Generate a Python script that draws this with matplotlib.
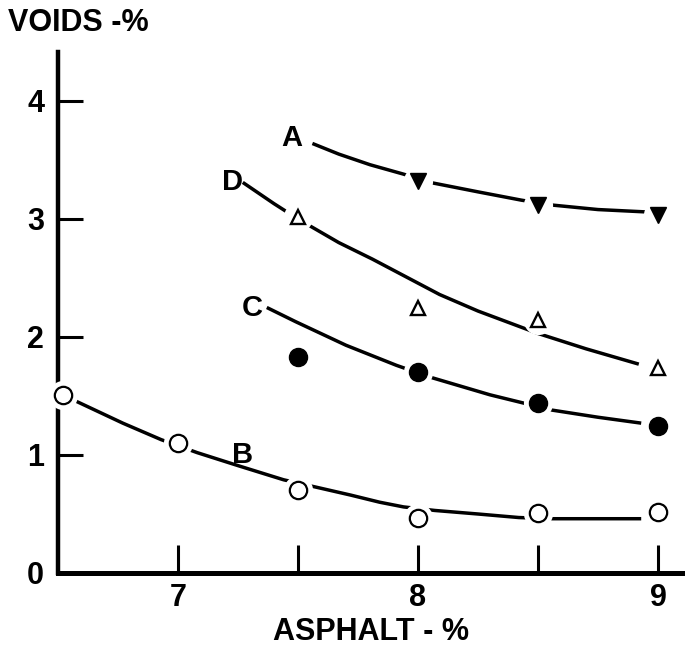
from matplotlib import pyplot as plt

# measured points (asphalt %, voids %)
a_x = [8.0, 8.5, 9.0]
a_y = [3.32, 3.12, 3.03]
d_x = [7.5, 8.0, 8.5, 9.0]
d_y = [3.02, 2.25, 2.14, 1.74]
c_x = [7.5, 8.0, 8.5, 9.0]
c_y = [1.83, 1.70, 1.44, 1.25]
b_x = [6.52, 7.0, 7.5, 8.0, 8.5, 9.0]
b_y = [1.51, 1.10, 0.70, 0.47, 0.51, 0.52]

# fitted curves
a_curve_x = [7.56, 7.67, 7.80, 7.94, 8.05, 8.25, 8.43, 8.55, 8.75, 8.95]
a_curve_y = [3.64, 3.55, 3.46, 3.38, 3.31, 3.23, 3.16, 3.12, 3.08, 3.06]
d_curve_x = [7.27, 7.40, 7.50, 7.67, 7.81, 8.09, 8.25, 8.50, 8.70, 8.92]
d_curve_y = [3.31, 3.13, 3.00, 2.80, 2.66, 2.36, 2.22, 2.03, 1.90, 1.77]
c_curve_x = [7.37, 7.49, 7.70, 7.91, 8.05, 8.30, 8.56, 8.75, 8.93]
c_curve_y = [2.25, 2.13, 1.93, 1.76, 1.66, 1.51, 1.38, 1.32, 1.27]
b_curve_x = [6.52, 6.55, 6.77, 6.93, 7.08, 7.25, 7.44, 7.57, 7.72, 7.84, 7.94, 8.07, 8.25, 8.42, 8.56, 8.93]
b_curve_y = [1.51, 1.48, 1.27, 1.13, 1.02, 0.91, 0.79, 0.73, 0.66, 0.60, 0.56, 0.53, 0.50, 0.47, 0.46, 0.46]

labels = ["A", "D", "C", "B"]
label_x = [7.475, 7.225, 7.31, 7.27]
label_y = [3.69, 3.31, 2.25, 1.00]

plt.rcParams['font.family'] = ['Liberation Sans', 'DejaVu Sans']
plt.rcParams['font.weight'] = 'bold'

fig = plt.figure(figsize=(6.85, 6.5), dpi=100)
ax = fig.add_axes([58 / 685, 1 - 573 / 650, 627 / 685, 521 / 650])

line_kw = dict(color='black', lw=2.5, solid_capstyle='butt', zorder=2)
ax.plot(a_curve_x, a_curve_y, **line_kw)
ax.plot(d_curve_x, d_curve_y, **line_kw)
ax.plot(c_curve_x, c_curve_y, **line_kw)
ax.plot(b_curve_x, b_curve_y, **line_kw)

# white halos so the curves break around the points
for xs, ys in [(a_x, a_y), (d_x, d_y), (c_x, c_y), (b_x, b_y)]:
    ax.plot(xs, ys, 'o', color='white', ms=21, mec='none', zorder=3, clip_on=False)

ax.plot(a_x, a_y, 'v', color='black', ms=12, zorder=4, clip_on=False)
ax.plot(d_x, d_y, '^', mfc='white', mec='black', mew=1.7, ms=10, zorder=4, clip_on=False)
ax.plot(c_x, c_y, 'o', color='black', ms=13, zorder=4, clip_on=False)
ax.plot(b_x, b_y, 'o', mfc='white', mec='black', mew=1.6, ms=12.5, zorder=4, clip_on=False)

for lab, x, y in zip(labels, label_x, label_y):
    ax.text(x, y, lab, fontsize=21, fontweight='bold', ha='center', va='center')

ax.set_xlim(6.5, 6.5 + 627 / 240)
ax.set_ylim(0, 521 / 118)

ax.spines['top'].set_visible(False)
ax.spines['right'].set_visible(False)
ax.spines['left'].set_linewidth(3.2)
ax.spines['bottom'].set_linewidth(3.6)

ax.set_xticks([7, 8, 9])
ax.set_xticks([7.5, 8.5], minor=True)
ax.set_yticks([0, 1, 2, 3, 4])
ax.tick_params(axis='x', which='both', direction='in', length=20, width=2.2, pad=7, labelsize=22)
ax.tick_params(axis='y', direction='in', length=18, width=2.2, pad=10, labelsize=22)

fig.text(0.012, 0.965, "VOIDS -%", fontsize=22, fontweight='bold', ha='left', va='center')
fig.text(0.542, 0.028, "ASPHALT - %", fontsize=22, fontweight='bold', ha='center', va='center')

fig.savefig("out.png", dpi=100)
